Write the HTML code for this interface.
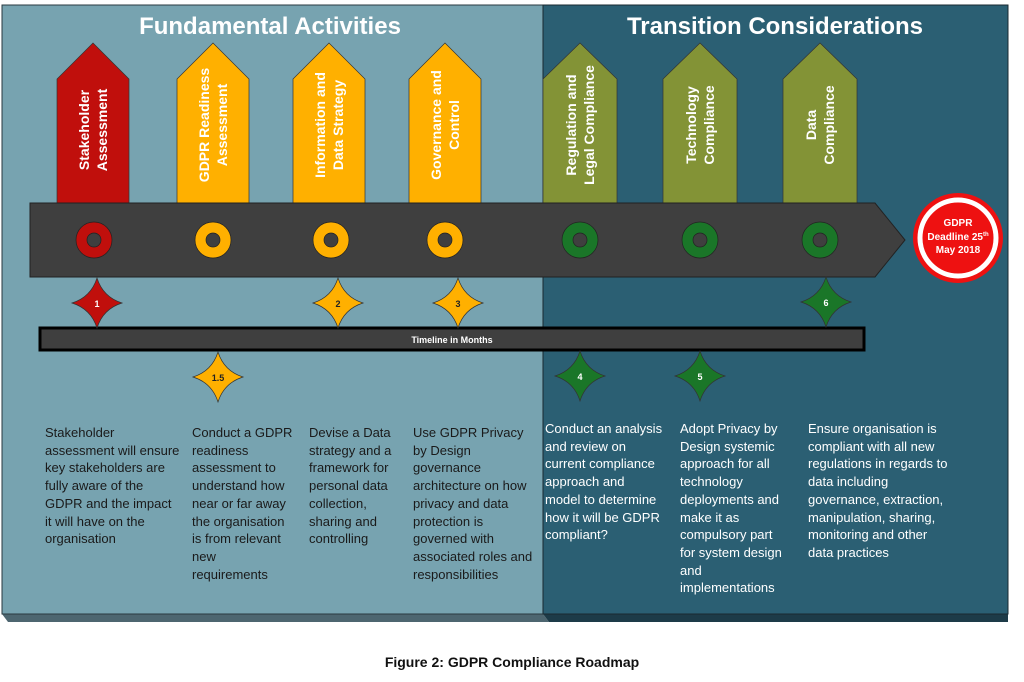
<!DOCTYPE html>
<html><head><meta charset="utf-8"><style>
body{margin:0;background:#fff;width:1024px;height:682px;overflow:hidden;position:relative;font-family:"Liberation Sans",sans-serif}
.t{position:absolute;font-size:13px;line-height:17.7px;color:#1a1a1a;white-space:nowrap}
.w{color:#fff}
</style></head><body>
<svg width="1024" height="682" style="position:absolute;left:0;top:0">
<defs>
<path id="st" d="M0,-25 Q6,-6 25,0 Q6,6 0,25 Q-6,6 -25,0 Q-6,-6 0,-25Z"/>
</defs>
<polygon points="2,614 543,614 549,622 8,622" fill="#4d6670"/>
<polygon points="543,614 1008,614 1008,622 549,622" fill="#1d3b48"/>
<rect x="2" y="5" width="541" height="609" fill="#77a3b0" stroke="#2a3a40" stroke-width="1"/>
<rect x="543" y="5" width="465" height="609" fill="#2b5f73" stroke="#1a2a30" stroke-width="1"/>
<text x="270" y="34" fill="#fff" font-size="24" font-weight="bold" text-anchor="middle">Fundamental Activities</text>
<text x="775" y="34" fill="#fff" font-size="24" font-weight="bold" text-anchor="middle">Transition Considerations</text>
<g stroke="#333" stroke-width="0.7">
<polygon points="57,203 57,79 93,43 129,79 129,203" fill="#c00f0c"/>
<polygon points="177,203 177,79 213,43 249,79 249,203" fill="#ffb000"/>
<polygon points="293,203 293,79 329,43 365,79 365,203" fill="#ffb000"/>
<polygon points="409,203 409,79 445,43 481,79 481,203" fill="#ffb000"/>
<polygon points="543,203 543,79 580,43 617,79 617,203" fill="#839336"/>
<polygon points="663,203 663,79 700,43 737,79 737,203" fill="#839336"/>
<polygon points="783,203 783,79 820,43 857,79 857,203" fill="#839336"/>
</g>
<g fill="#fff" font-size="14" font-weight="bold" text-anchor="middle">
<text transform="translate(93,130) rotate(-90)"><tspan x="0" y="-4">Stakeholder</tspan><tspan x="0" y="14">Assessment</tspan></text>
<text transform="translate(213,125) rotate(-90)"><tspan x="0" y="-4">GDPR Readiness</tspan><tspan x="0" y="14">Assessment</tspan></text>
<text transform="translate(329,125) rotate(-90)"><tspan x="0" y="-4">Information and</tspan><tspan x="0" y="14">Data Strategy</tspan></text>
<text transform="translate(445,125) rotate(-90)"><tspan x="0" y="-4">Governance and</tspan><tspan x="0" y="14">Control</tspan></text>
<text transform="translate(580,125) rotate(-90)"><tspan x="0" y="-4">Regulation and</tspan><tspan x="0" y="14">Legal Compliance</tspan></text>
<text transform="translate(700,125) rotate(-90)"><tspan x="0" y="-4">Technology</tspan><tspan x="0" y="14">Compliance</tspan></text>
<text transform="translate(820,125) rotate(-90)"><tspan x="0" y="-4">Data</tspan><tspan x="0" y="14">Compliance</tspan></text>
</g>
<polygon points="30,203 875,203 905,240 875,277 30,277" fill="#3f3f3f" stroke="#222" stroke-width="1"/>
<g stroke="#222" stroke-width="0.7">
<circle cx="94" cy="240" r="18" fill="#c00f0c"/><circle cx="213" cy="240" r="18" fill="#ffb000"/>
<circle cx="331" cy="240" r="18" fill="#ffb000"/><circle cx="445" cy="240" r="18" fill="#ffb000"/>
<circle cx="580" cy="240" r="18" fill="#1a7628"/><circle cx="700" cy="240" r="18" fill="#1a7628"/>
<circle cx="820" cy="240" r="18" fill="#1a7628"/>
</g>
<g fill="#3f3f3f" stroke="#222" stroke-width="0.7">
<circle cx="94" cy="240" r="7"/><circle cx="213" cy="240" r="7"/><circle cx="331" cy="240" r="7"/><circle cx="445" cy="240" r="7"/>
<circle cx="580" cy="240" r="7"/><circle cx="700" cy="240" r="7"/><circle cx="820" cy="240" r="7"/>
</g>
<circle cx="958" cy="238" r="45" fill="#ee1111"/>
<circle cx="958" cy="238" r="38" fill="none" stroke="#fff" stroke-width="5"/>
<g fill="#fff" font-size="10" font-weight="bold" text-anchor="middle">
<text x="958" y="226">GDPR</text>
<text x="958" y="240">Deadline 25<tspan font-size="6" dy="-4">th</tspan></text>
<text x="958" y="253">May 2018</text>
</g>
<rect x="40" y="328" width="824" height="22" fill="#3f3f3f" stroke="#000" stroke-width="3"/>
<text x="452" y="343" fill="#fff" font-size="9" font-weight="bold" text-anchor="middle">Timeline in Months</text>
<g stroke="#333" stroke-width="0.7">
<use href="#st" x="97" y="303" fill="#c00f0c"/>
<use href="#st" x="338" y="303" fill="#ffb000"/>
<use href="#st" x="458" y="303" fill="#ffb000"/>
<use href="#st" x="218" y="377" fill="#ffb000"/>
<use href="#st" x="826" y="302" fill="#1a7628"/>
<use href="#st" x="580" y="376" fill="#1a7628"/>
<use href="#st" x="700" y="376" fill="#1a7628"/>
</g>
<g font-size="9" font-weight="bold" text-anchor="middle">
<text x="97" y="307" fill="#fff">1</text>
<text x="338" y="307" fill="#222">2</text>
<text x="458" y="307" fill="#222">3</text>
<text x="218" y="381" fill="#222">1.5</text>
<text x="826" y="306" fill="#fff">6</text>
<text x="580" y="380" fill="#fff">4</text>
<text x="700" y="380" fill="#fff">5</text>
</g>
<text x="512" y="667" fill="#111" font-size="14" font-weight="bold" text-anchor="middle">Figure 2: GDPR Compliance Roadmap</text>
</svg>
<div class="t" style="left:45px;top:424px">Stakeholder<br>assessment will ensure<br>key stakeholders are<br>fully aware of the<br>GDPR and the impact<br>it will have on the<br>organisation</div>
<div class="t" style="left:192px;top:424px">Conduct a GDPR<br>readiness<br>assessment to<br>understand how<br>near or far away<br>the organisation<br>is from relevant<br>new<br>requirements</div>
<div class="t" style="left:309px;top:424px">Devise a Data<br>strategy and a<br>framework for<br>personal data<br>collection,<br>sharing and<br>controlling</div>
<div class="t" style="left:413px;top:424px">Use GDPR Privacy<br>by Design<br>governance<br>architecture on how<br>privacy and data<br>protection is<br>governed with<br>associated roles and<br>responsibilities</div>
<div class="t w" style="left:545px;top:420px">Conduct an analysis<br>and review on<br>current compliance<br>approach and<br>model to determine<br>how it will be GDPR<br>compliant?</div>
<div class="t w" style="left:680px;top:420px">Adopt Privacy by<br>Design systemic<br>approach for all<br>technology<br>deployments and<br>make it as<br>compulsory part<br>for system design<br>and<br>implementations</div>
<div class="t w" style="left:808px;top:420px">Ensure organisation is<br>compliant with all new<br>regulations in regards to<br>data including<br>governance, extraction,<br>manipulation, sharing,<br>monitoring and other<br>data practices</div>
</body></html>
